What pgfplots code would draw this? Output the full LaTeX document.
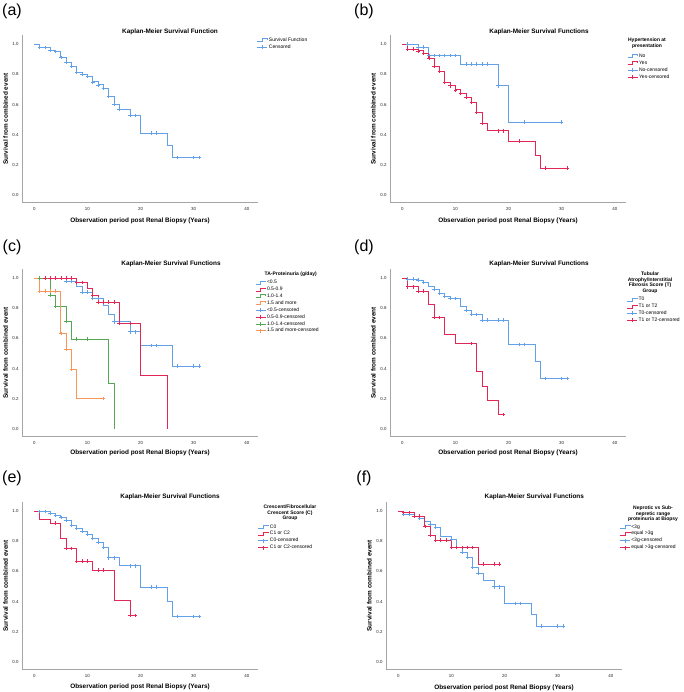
\documentclass[border=0pt]{standalone}
\usepackage{pgfplots}
\pgfplotsset{compat=1.18}
\usepackage{fontspec}
\setmainfont{Liberation Sans}
\definecolor{kmblue}{RGB}{98,160,232}
\definecolor{kmred}{RGB}{226,38,88}
\definecolor{kmgreen}{RGB}{84,168,84}
\definecolor{kmorange}{RGB}{246,150,90}
\definecolor{axgray}{RGB}{165,165,165}
\newcommand{\tickfont}{\fontsize{4.4}{5}\selectfont}
\newcommand{\legfont}{\fontsize{5}{5.8}\selectfont}
\newcommand{\labfont}{\fontsize{6.4}{7.5}\selectfont\bfseries}
\pgfplotsset{
  kmaxis/.style={scale only axis, width=235.8pt, height=167.6pt,
    xmin=-2.3, xmax=42.1, ymin=-0.05, ymax=1.06,
    axis lines*=left, axis line style={draw=axgray, line width=0.6pt, -},
    xtick={0,10,20,30,40}, xticklabels={0,10,20,30,40},
    ytick={0,0.2,0.4,0.6,0.8,1}, yticklabels={0.0,0.2,0.4,0.6,0.8,1.0},
    /pgf/number format/assume math mode=true,
    tick label style={font=\tickfont, text=black!85},
    major tick length=0pt, tick style={draw=none},
    xticklabel style={yshift=-1pt},
    legend cell align=left,
    legend style={draw=none, fill=none, font=\legfont, anchor=north west, inner sep=0pt,
      nodes={inner sep=1.2pt, text height=3.5pt, text depth=1pt, anchor=west}},
  },
  kmline/.style={const plot, line width=0.8pt, draw=#1, color=#1, mark=none,
    legend image code/.code={\draw[draw=#1, line width=0.6pt] (0pt,-1.5pt) -- (5pt,-1.5pt) -- (5pt,1.5pt) -- (10pt,1.5pt) -- (10pt,0.6pt);}},
  kmcens/.style={only marks, mark=+, mark size=1.8pt, line width=0.65pt, color=#1, draw=#1,
    mark options={draw=#1, line width=0.65pt},
    legend image code/.code={\draw[draw=#1, line width=0.6pt] (0pt,0pt) -- (10pt,0pt); \draw[draw=#1, line width=0.6pt] (5pt,-2pt) -- (5pt,2pt);}},
}
\begin{document}
\begin{tikzpicture}
\path[use as bounding box] (0pt,0pt) rectangle (683pt,-692pt);

% ---------------- (a)
\node[font=\fontsize{16}{18}\selectfont] at (12pt,-11pt) {(a)};
\node[font=\labfont] at (170pt,-31.7pt) {Kaplan-Meier Survival Function};
\node[font=\labfont] at (140pt,-220.7pt) {Observation period post Renal Biopsy (Years)};
\node[font=\labfont, rotate=90] at (5.5pt,-119pt) {Survival from combined event};
\begin{axis}[kmaxis, at={(22.1pt,-202.8pt)}, anchor=south west,
  legend style={at={(0.996,0.992)}}]
\addplot[kmline=kmblue] coordinates {(0,1)(1,0.978)(3,0.958)(4,0.951)(5,0.912)(6,0.879)(7,0.855)(8,0.815)(9,0.80)(10,0.786)(11,0.751)(12,0.731)(13,0.709)(14,0.656)(15,0.604)(16,0.57)(18,0.529)(20,0.412)(25,0.33)(26,0.249)(31,0.249)};
\addlegendentry{Survival Function}
\addplot[kmcens=kmblue] coordinates {(1,0.978)(2,0.978)(3,0.958)(4,0.951)(5,0.912)(6,0.879)(7,0.855)(8,0.815)(9,0.80)(10,0.786)(11,0.751)(12,0.731)(13,0.709)(14,0.656)(15,0.604)(16,0.57)(18,0.529)(19,0.529)(22,0.412)(23,0.412)(27,0.249)(30,0.249)(31,0.249)};
\addlegendentry{Censored}
\end{axis}

% ---------------- (b)
\node[font=\fontsize{16}{18}\selectfont] at (364pt,-11pt) {(b)};
\node[font=\labfont] at (539pt,-31.7pt) {Kaplan-Meier Survival Functions};
\node[font=\labfont] at (508pt,-220.7pt) {Observation period post Renal Biopsy (Years)};
\node[font=\labfont, rotate=90] at (373.3pt,-119pt) {Survival from combined event};
\node[font=\legfont\bfseries, align=center, anchor=north, inner sep=0pt] at (647pt,-37.5pt) {Hypertension at\\presentation};
\begin{axis}[kmaxis, at={(390.1pt,-202.8pt)}, anchor=south west,
  legend style={at={(1.005,0.897)}}]
\addplot[kmline=kmblue] coordinates {(0,1)(3,0.98)(5,0.925)(11,0.868)(18,0.725)(20,0.485)(30,0.485)};
\addlegendentry{No}
\addplot[kmline=kmred] coordinates {(0,1)(1,0.967)(3,0.956)(4,0.94)(5,0.907)(6,0.852)(7,0.819)(8,0.749)(9,0.725)(10,0.698)(11,0.676)(12,0.648)(13,0.617)(14,0.548)(15,0.478)(16,0.427)(20,0.359)(25,0.267)(26,0.181)(31,0.181)};
\addlegendentry{Yes}
\addplot[kmcens=kmblue] coordinates {(1,1)(3,0.98)(4,0.98)(5,0.925)(6,0.925)(7,0.925)(8,0.925)(9,0.925)(10,0.925)(12,0.868)(13,0.868)(14,0.868)(15,0.868)(16,0.868)(18,0.725)(23,0.485)(30,0.485)};
\addlegendentry{No-censored}
\addplot[kmcens=kmred] coordinates {(1,0.967)(2,0.967)(3,0.956)(4,0.94)(5,0.907)(6,0.852)(7,0.819)(8,0.749)(9,0.725)(10,0.698)(11,0.676)(12,0.648)(13,0.617)(14,0.548)(15,0.478)(18,0.427)(19,0.427)(22,0.359)(27,0.181)(31,0.181)};
\addlegendentry{Yes-censored}
\end{axis}

% ---------------- (c)
\node[font=\fontsize{16}{18}\selectfont] at (12pt,-247pt) {(c)};
\node[font=\labfont] at (171pt,-264.3pt) {Kaplan-Meier Survival Functions};
\node[font=\labfont] at (140pt,-452.7pt) {Observation period post Renal Biopsy (Years)};
\node[font=\labfont, rotate=90] at (5.5pt,-352.7pt) {Survival from combined event};
\node[font=\legfont\bfseries, align=center, anchor=north, inner sep=0pt] at (290.7pt,-272pt) {TA-Proteinuria (g/day)};
\begin{axis}[kmaxis, at={(22.1pt,-436.5pt)}, anchor=south west,
  legend style={at={(0.988,0.941)}}]
\addplot[kmline=kmblue] coordinates {(0,1)(6,0.976)(8,0.942)(9,0.907)(11,0.865)(13,0.816)(14,0.761)(15,0.71)(18,0.644)(20,0.553)(26,0.416)(31,0.416)};
\addlegendentry{<0.5}
\addplot[kmline=kmred] coordinates {(0,1)(8,0.969)(10,0.931)(11,0.887)(12,0.841)(16,0.699)(20,0.352)(25,0)};
\addlegendentry{0.5-0.9}
\addplot[kmline=kmgreen] coordinates {(0,1)(3,0.887)(4,0.812)(6,0.715)(7,0.595)(14,0.299)(15,0)};
\addlegendentry{1.0-1.4}
\addplot[kmline=kmorange] coordinates {(0,1)(1,0.912)(5,0.633)(6,0.527)(7,0.394)(8,0.201)(13,0.201)};
\addlegendentry{1.5 and more}
\addplot[kmcens=kmblue] coordinates {(6,0.976)(7,0.976)(9,0.907)(10,0.907)(11,0.865)(12,0.865)(15,0.71)(18,0.644)(19,0.644)(22,0.553)(23,0.553)(27,0.416)(30,0.416)(31,0.416)};
\addlegendentry{<0.5-censored}
\addplot[kmcens=kmred] coordinates {(2,1)(3,1)(4,1)(5,1)(6,1)(7,1)(8,0.969)(9,0.969)(11,0.887)(12,0.841)(13,0.841)(14,0.841)(15,0.841)(16,0.699)(18,0.699)};
\addlegendentry{0.5-0.9-censored}
\addplot[kmcens=kmgreen] coordinates {(1,1)(3,0.887)(4,0.812)(6,0.715)(8,0.595)(10,0.595)};
\addlegendentry{1.0-1.4-censored}
\addplot[kmcens=kmorange] coordinates {(1,0.912)(2,0.912)(3,0.912)(4,0.912)(5,0.633)(6,0.527)(7,0.394)(13,0.201)};
\addlegendentry{1.5 and more-censored}
\end{axis}

% ---------------- (d)
\node[font=\fontsize{16}{18}\selectfont] at (364pt,-247pt) {(d)};
\node[font=\labfont] at (539pt,-264.3pt) {Kaplan-Meier Survival Functions};
\node[font=\labfont] at (508pt,-453.3pt) {Observation period post Renal Biopsy (Years)};
\node[font=\labfont, rotate=90] at (373.3pt,-352.7pt) {Survival from combined event};
\node[font=\legfont\bfseries, align=center, anchor=north, inner sep=0pt] at (650pt,-271.5pt) {Tubular\\Atrophy/Interstitial\\Fibrosis Score (T)\\Group};
\begin{axis}[kmaxis, at={(390.1pt,-436.5pt)}, anchor=south west,
  legend style={at={(1.003,0.839)}}]
\addplot[kmline=kmblue] coordinates {(0,1)(1,0.993)(3,0.985)(4,0.971)(5,0.947)(6,0.927)(7,0.898)(8,0.881)(9,0.863)(11,0.814)(12,0.788)(13,0.759)(15,0.721)(20,0.56)(25,0.445)(26,0.334)(31,0.334)};
\addlegendentry{T0}
\addplot[kmline=kmred] coordinates {(0,1)(1,0.942)(3,0.912)(5,0.827)(6,0.737)(8,0.626)(10,0.566)(14,0.381)(15,0.285)(16,0.19)(18,0.097)(19,0.097)};
\addlegendentry{T1 or T2}
\addplot[kmcens=kmblue] coordinates {(1,0.993)(2,0.993)(3,0.985)(4,0.971)(6,0.927)(7,0.898)(8,0.881)(9,0.863)(10,0.863)(12,0.788)(13,0.759)(14,0.759)(15,0.721)(16,0.721)(18,0.721)(19,0.721)(22,0.56)(23,0.56)(27,0.334)(30,0.334)(31,0.334)};
\addlegendentry{T0-censored}
\addplot[kmcens=kmred] coordinates {(1,0.942)(2,0.942)(3,0.912)(4,0.912)(6,0.737)(7,0.737)(13,0.566)(19,0.097)};
\addlegendentry{T1 or T2-censored}
\end{axis}

% ---------------- (e)
\node[font=\fontsize{16}{18}\selectfont] at (12pt,-478pt) {(e)};
\node[font=\labfont] at (170pt,-497.3pt) {Kaplan-Meier Survival Functions};
\node[font=\labfont] at (140pt,-686.7pt) {Observation period post Renal Biopsy (Years)};
\node[font=\labfont, rotate=90] at (5.5pt,-585.7pt) {Survival from combined event};
\node[font=\legfont\bfseries, align=center, anchor=north, inner sep=0pt] at (290pt,-504.5pt) {Crescent/Fibrocellular\\Crescent Score (C)\\Group};
\begin{axis}[kmaxis, at={(22.1pt,-669.5pt)}, anchor=south west,
  legend style={at={(1.0,0.873)}}]
\addplot[kmline=kmblue] coordinates {(0,1)(1,0.996)(3,0.985)(4,0.971)(5,0.958)(6,0.94)(7,0.903)(8,0.885)(9,0.865)(10,0.843)(11,0.819)(12,0.794)(13,0.759)(14,0.69)(16,0.637)(20,0.496)(25,0.398)(26,0.301)(31,0.301)};
\addlegendentry{C0}
\addplot[kmline=kmred] coordinates {(0,1)(1,0.945)(3,0.92)(5,0.816)(6,0.752)(8,0.668)(11,0.608)(15,0.405)(18,0.307)(19,0.307)};
\addlegendentry{C1 or C2}
\addplot[kmcens=kmblue] coordinates {(1,0.996)(2,0.996)(3,0.985)(4,0.971)(5,0.958)(6,0.94)(7,0.903)(8,0.885)(9,0.865)(10,0.843)(11,0.819)(12,0.794)(13,0.759)(14,0.69)(15,0.69)(18,0.637)(19,0.637)(22,0.496)(23,0.496)(27,0.301)(30,0.301)(31,0.301)};
\addlegendentry{C0-censored}
\addplot[kmcens=kmred] coordinates {(4,0.92)(6,0.752)(7,0.752)(8,0.668)(9,0.668)(10,0.668)(12,0.608)(13,0.608)(18,0.307)(19,0.307)};
\addlegendentry{C1 or C2-censored}
\end{axis}

% ---------------- (f)
\node[font=\fontsize{16}{18}\selectfont] at (364pt,-478pt) {(f)};
\node[font=\labfont] at (534.3pt,-497.3pt) {Kaplan-Meier Survival Functions};
\node[font=\labfont] at (504pt,-687.7pt) {Observation period post Renal Biopsy (Years)};
\node[font=\labfont, rotate=90] at (369.3pt,-585.7pt) {Survival from combined event};
\node[font=\legfont\bfseries, align=center, anchor=north, inner sep=0pt] at (653pt,-505.5pt) {Neprotic vs Sub-\\nepretic range\\proteinuria at Biopsy};
\begin{axis}[kmaxis, at={(386.1pt,-669.5pt)}, anchor=south west,
  legend style={at={(0.989,0.873)}}]
\addplot[kmline=kmblue] coordinates {(0,1)(1,0.978)(3,0.967)(4,0.949)(5,0.931)(6,0.912)(7,0.892)(8,0.832)(10,0.812)(11,0.759)(12,0.726)(13,0.692)(14,0.626)(15,0.586)(16,0.542)(18,0.498)(20,0.387)(25,0.314)(26,0.237)(31,0.237)};
\addlegendentry{<3g}
\addplot[kmline=kmred] coordinates {(0,1)(1,0.991)(3,0.967)(5,0.896)(6,0.841)(7,0.808)(10,0.757)(15,0.648)(19,0.648)};
\addlegendentry{equal >3g}
\addplot[kmcens=kmblue] coordinates {(1,0.978)(2,0.978)(4,0.949)(6,0.912)(7,0.892)(10,0.812)(12,0.726)(13,0.692)(14,0.626)(15,0.586)(18,0.498)(19,0.498)(22,0.387)(23,0.387)(27,0.237)(30,0.237)(31,0.237)};
\addlegendentry{<3g-censored}
\addplot[kmcens=kmred] coordinates {(1,0.991)(2,0.991)(3,0.967)(4,0.967)(5,0.896)(6,0.841)(7,0.808)(8,0.808)(9,0.808)(10,0.757)(11,0.757)(12,0.757)(13,0.757)(14,0.757)(16,0.648)(18,0.648)(19,0.648)};
\addlegendentry{equal >3g-censored}
\end{axis}
\end{tikzpicture}
\end{document}
